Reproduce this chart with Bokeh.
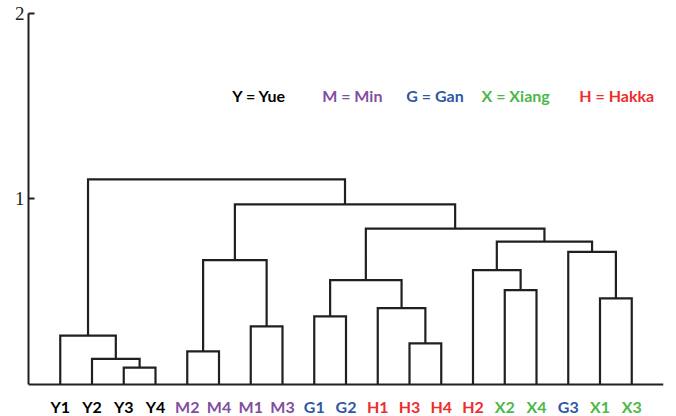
from bokeh.plotting import figure
from bokeh.models import Range1d, FixedTicker, ColumnDataSource
from bokeh.core.properties import value
from bokeh.embed import file_html
from bokeh.resources import INLINE

# ---------------- data ----------------
leaf_labels = ["Y1", "Y2", "Y3", "Y4", "M2", "M4", "M1", "M3", "G1", "G2",
               "H1", "H3", "H4", "H2", "X2", "X4", "G3", "X1", "X3"]
leaf_groups = ["Y", "Y", "Y", "Y", "M", "M", "M", "M", "G", "G",
               "H", "H", "H", "H", "X", "X", "G", "X", "X"]

# linkage: node ids 0..18 are leaves, merge k creates node 19+k
merge_a = [2, 1, 0, 4, 6, 22, 8, 11, 10, 25, 14, 13, 17, 16, 30, 28, 24, 21]
merge_b = [3, 19, 20, 5, 7, 23, 9, 12, 26, 27, 15, 29, 18, 31, 32, 33, 34, 35]
merge_h = [0.091, 0.138, 0.263, 0.179, 0.313, 0.670, 0.367, 0.222, 0.412,
           0.563, 0.509, 0.617, 0.464, 0.715, 0.770, 0.840, 0.971, 1.106]

legend_keys = ["Y", "M", "G", "X", "H"]
legend_names = ["Yue", "Min", "Gan", "Xiang", "Hakka"]

y_ticks = [1, 2]

# ---------------- style ----------------
group_colors = {"Y": "#000000", "M": "#7F4F9F", "G": "#2F57A5",
                "X": "#4DB84A", "H": "#EE2D2D"}
legend_x = [6.42, 9.25, 11.90, 14.27, 17.35]
legend_y = 1.56
label_y = -0.118
line_col = "#231F20"

# ---------------- layout of the tree ----------------
n = len(leaf_labels)
node_x = [i + 1 for i in range(n)]
node_h = [0.0] * n
xs, ys = [], []
for a, b, h in zip(merge_a, merge_b, merge_h):
    xa, xb = node_x[a], node_x[b]
    xs.append([xa, xa, xb, xb])
    ys.append([node_h[a], h, h, node_h[b]])
    node_x.append((xa + xb) / 2)
    node_h.append(h)

p = figure(width=676, height=416, output_backend="svg", toolbar_location=None,
           x_range=Range1d(0, 20), y_range=Range1d(-0.1725, 2.07),
           min_border_left=28, min_border_right=13, min_border_top=0,
           min_border_bottom=0)
p.xaxis.visible = False
p.xgrid.visible = False
p.ygrid.visible = False
p.outline_line_color = None
p.background_fill_color = "white"

yax = p.yaxis[0]
yax.ticker = FixedTicker(ticks=y_ticks)
yax.bounds = (0, 2)
yax.minor_tick_line_color = None
yax.major_tick_in = 6
yax.major_tick_out = 0
yax.major_tick_line_width = 2
yax.major_tick_line_color = line_col
yax.axis_line_width = 2
yax.axis_line_color = line_col
yax.major_label_standoff = 4
yax.major_label_text_font = "Liberation Serif"
yax.major_label_text_font_size = "19px"
yax.major_label_text_color = "#222222"

# baseline
p.segment(x0=[0], y0=[0], x1=[20], y1=[0], line_color=line_col, line_width=2)

p.multi_line(xs=xs, ys=ys, line_color=line_col, line_width=2.2,
             line_join="miter")

leaf_src = ColumnDataSource(dict(
    x=node_x[:n], y=[label_y] * n, text=leaf_labels,
    color=[group_colors[g] for g in leaf_groups]))
p.text(x="x", y="y", text="text", text_color="color", source=leaf_src,
       text_font=value("Lato"), text_font_style="bold", text_font_size="16px",
       text_align="center", text_baseline="middle")

leg_src = ColumnDataSource(dict(
    x=legend_x, y=[legend_y] * len(legend_keys),
    text=[f"{k} = {nm}" for k, nm in zip(legend_keys, legend_names)],
    color=[group_colors[k] for k in legend_keys]))
p.text(x="x", y="y", text="text", text_color="color", source=leg_src,
       text_font=value("Lato"), text_font_style="bold", text_font_size="16px",
       text_align="left", text_baseline="middle")

open("out.html", "w").write(file_html(p, INLINE))
